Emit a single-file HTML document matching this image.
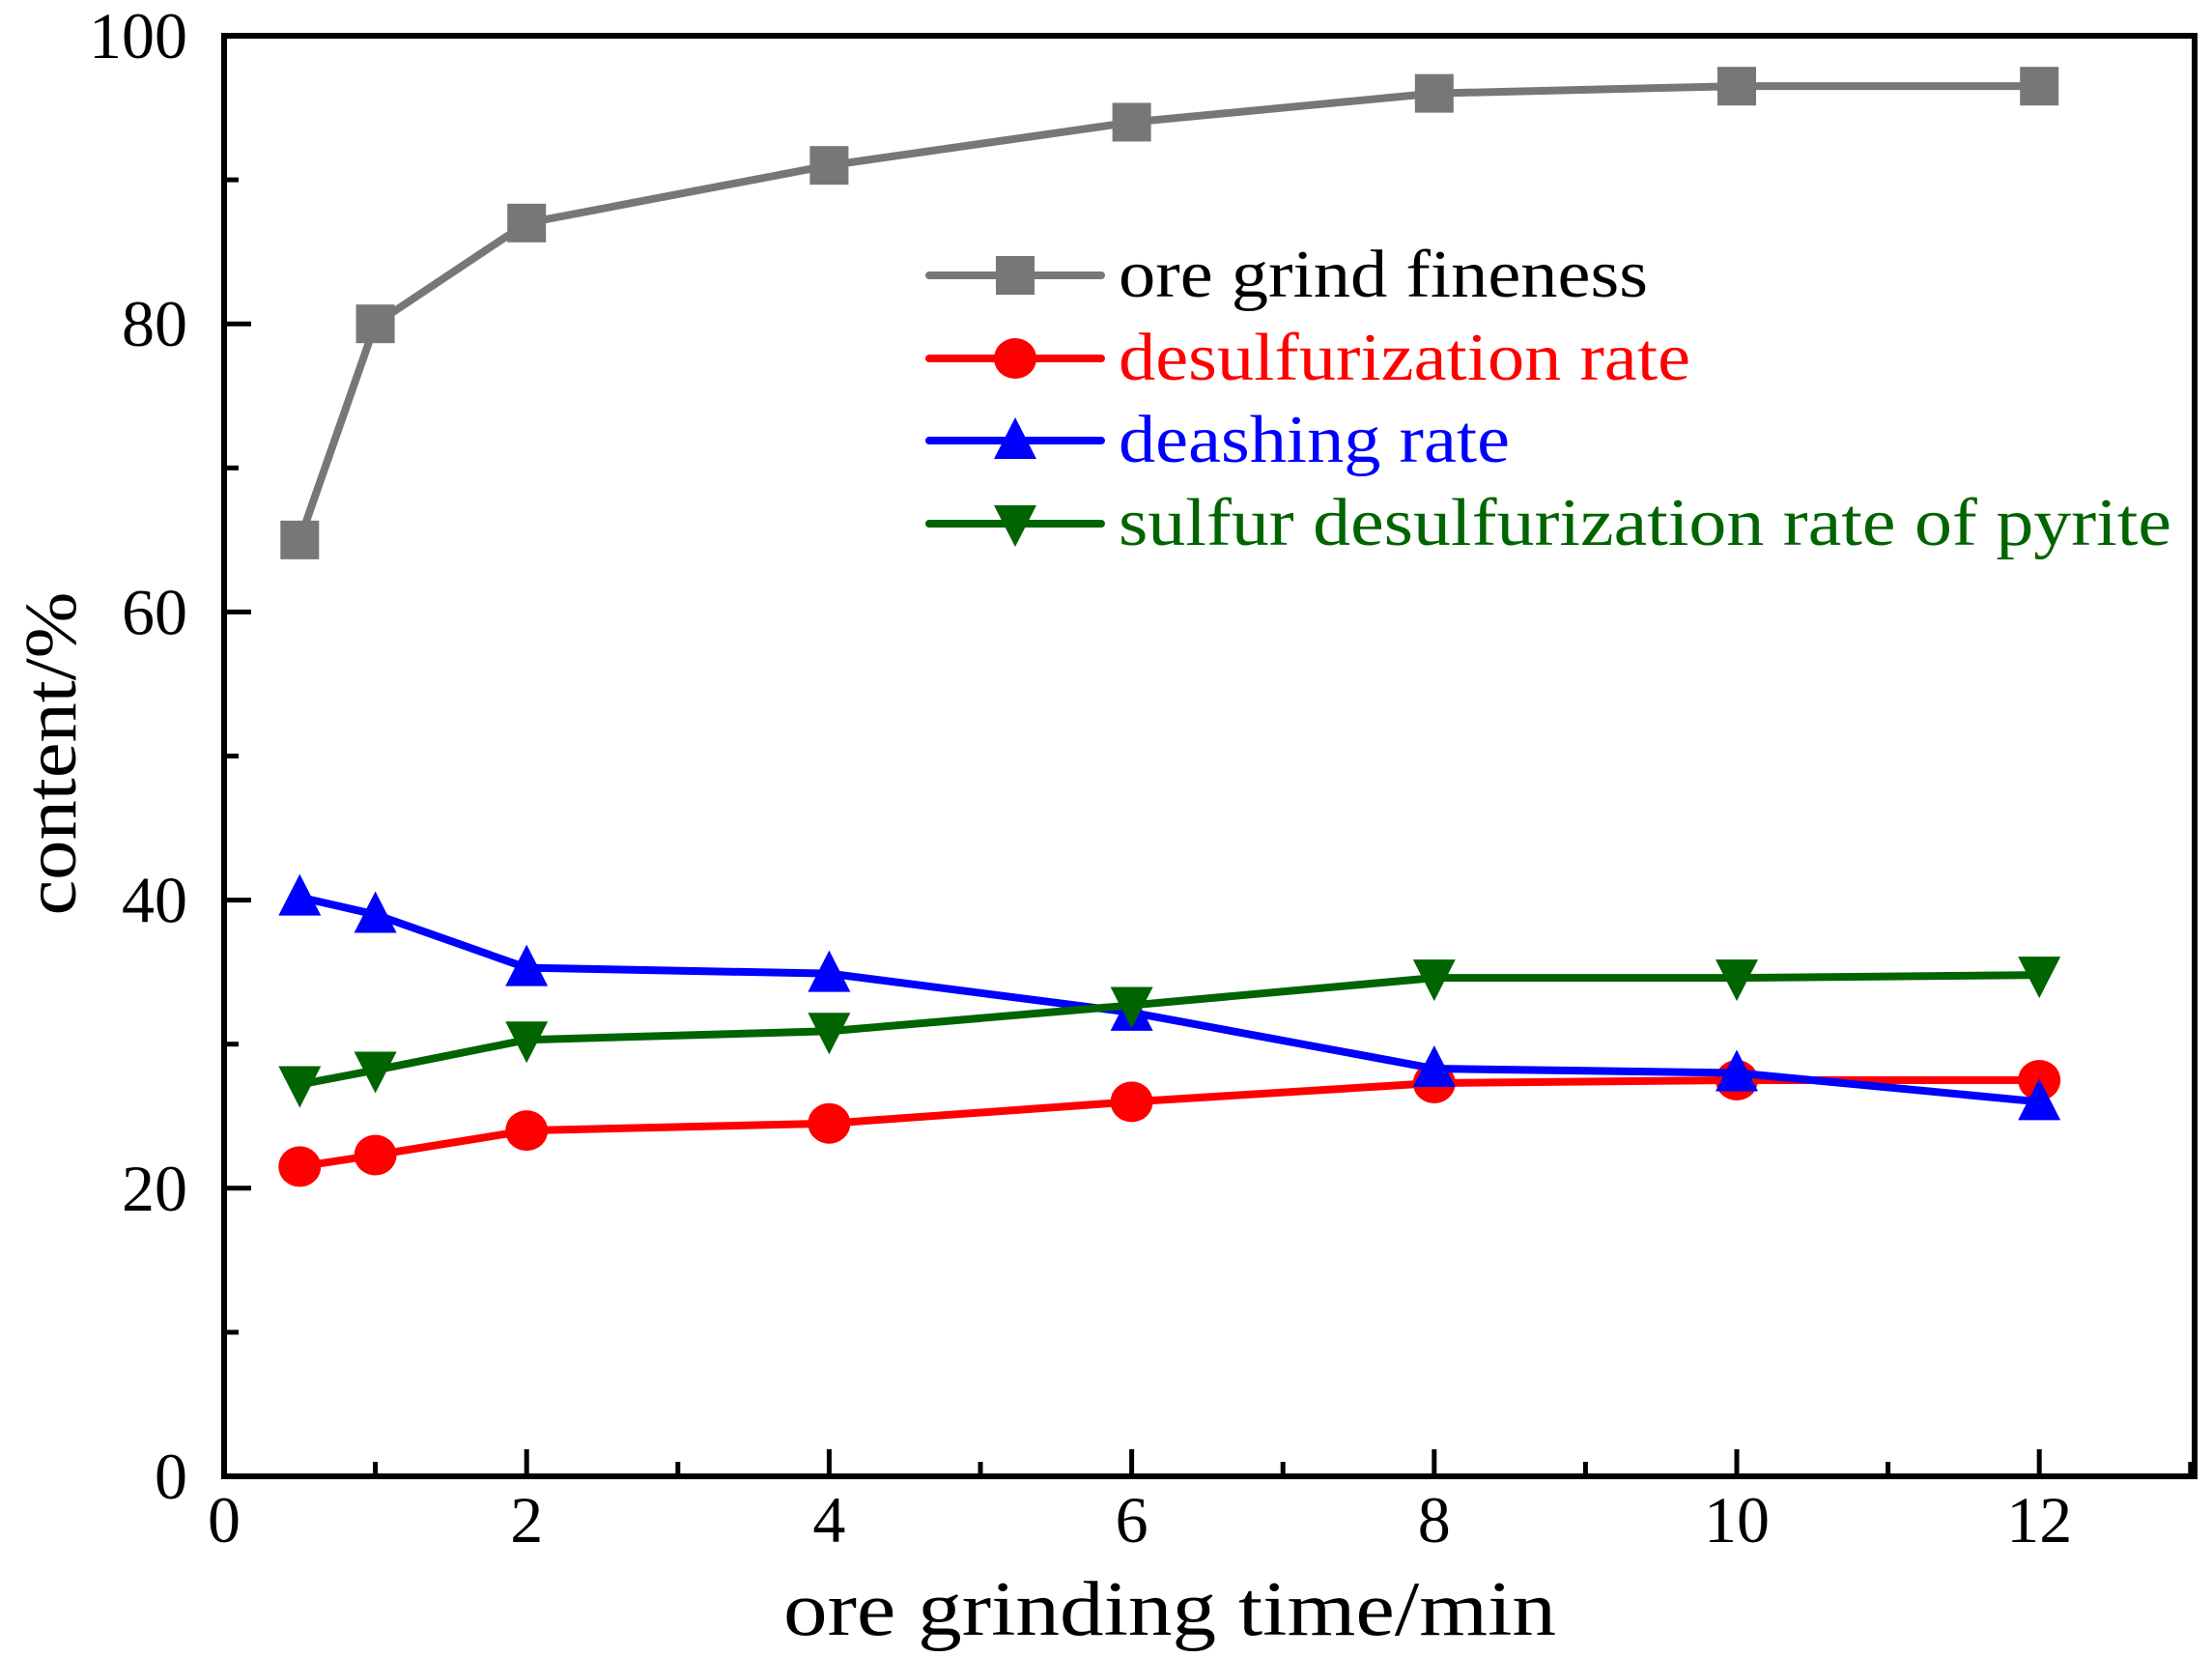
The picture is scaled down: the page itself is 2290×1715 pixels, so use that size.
<!DOCTYPE html>
<html><head><meta charset="utf-8"><style>
html,body{margin:0;padding:0;background:#fff;}
svg{display:block;font-family:"Liberation Serif",serif;}
</style></head><body>
<svg id="chart" width="2290" height="1715" viewBox="0 0 2290 1715" xmlns="http://www.w3.org/2000/svg">
<g id="axes"></g>
<g id="series"></g>
<g id="legend"></g>
<text x="0" y="0" font-size="76" text-anchor="middle" textLength="335" lengthAdjust="spacingAndGlyphs" transform="translate(78,780) rotate(-90)">content/%</text>
<text x="1211" y="1692" font-size="80" text-anchor="middle" textLength="800" lengthAdjust="spacingAndGlyphs">ore grinding time/min</text>
</svg>
<script>
const xValues = [0.5, 1, 2, 4, 6, 8, 10, 12];
const fineness = [65, 80, 87, 91, 94, 96, 96.5, 96.5];
const desulfurization = [21.5, 22.3, 24, 24.5, 26, 27.3, 27.5, 27.5];
const deashing = [40.2, 39, 35.3, 34.9, 32.2, 28.3, 28, 26];
const pyriteDesulf = [27.2, 28.2, 30.3, 30.9, 32.7, 34.6, 34.6, 34.8];
const xTicks = [0, 2, 4, 6, 8, 10, 12];
const yTicks = [0, 20, 40, 60, 80, 100];
const seriesNames = ["ore grind fineness", "desulfurization rate", "deashing rate", "sulfur desulfurization rate of pyrite"];

const NS = "http://www.w3.org/2000/svg";
const L = 232, R = 2272, T = 37, B = 1528;
const X = v => L + v * 156.6;
const Y = v => B - (v / 100) * (B - T);
function mk(tag, attrs, parent) {
  const e = document.createElementNS(NS, tag);
  for (const k in attrs) e.setAttribute(k, attrs[k]);
  parent.appendChild(e);
  return e;
}
const axes = document.getElementById('axes');
const frame = mk('rect', {x: L, y: T, width: R - L, height: B - T, fill: 'none', stroke: '#000', 'stroke-width': 6}, axes);


for (let v = 1; v <= 13; v++) {
  const major = v % 2 === 0;
  const t = mk('line', {x1: X(v), x2: X(v), y1: B, y2: B - (major ? 28 : 15), stroke: '#000', 'stroke-width': 5}, axes);
  
  
}
for (let v = 10; v < 100; v += 10) {
  const major = v % 20 === 0;
  const t = mk('line', {x1: L, x2: L + (major ? 28 : 15), y1: Y(v), y2: Y(v), stroke: '#000', 'stroke-width': 5}, axes);
  
  
}
xTicks.forEach(v => {
  const t = mk('text', {x: X(v), y: 1596, 'font-size': 68, 'text-anchor': 'middle'}, axes);
  t.textContent = v;
  
  
});
yTicks.forEach(v => {
  const t = mk('text', {x: 194, y: Y(v) + 23, 'font-size': 68, 'text-anchor': 'end'}, axes);
  t.textContent = v;
  
  
});

function marker(kind, cx, cy, color, parent) {
  let e;
  if (kind === 'square') e = mk('rect', {x: cx - 20, y: cy - 20, width: 40, height: 40, fill: color}, parent);
  else if (kind === 'circle') e = mk('ellipse', {cx: cx, cy: cy, rx: 22, ry: 21, fill: color}, parent);
  else if (kind === 'up') e = mk('polygon', {points: `${cx},${cy-24} ${cx-22},${cy+19} ${cx+22},${cy+19}`, fill: color}, parent);
  else e = mk('polygon', {points: `${cx},${cy+24} ${cx-22},${cy-19} ${cx+22},${cy-19}`, fill: color}, parent);
  return e;
}
const defs = [
  {vals: fineness, color: '#777777', kind: 'square', text: '#000', name: 'fineness'},
  {vals: desulfurization, color: '#ff0000', kind: 'circle', text: '#ff0000', name: 'desulfurization'},
  {vals: deashing, color: '#0000ff', kind: 'up', text: '#0000ff', name: 'deashing'},
  {vals: pyriteDesulf, color: '#006400', kind: 'down', text: '#006400', name: 'pyrite'}
];
const sg = document.getElementById('series');
defs.forEach(d => {
  const g = mk('g', {}, sg);
  
  
  const pl = mk('polyline', {points: xValues.map((x, i) => X(x) + ',' + Y(d.vals[i])).join(' '), fill: 'none', stroke: d.color, 'stroke-width': 8, 'stroke-linejoin': 'round'}, g);
  
  
  xValues.forEach((x, i) => {
    const m = marker(d.kind, X(x), Y(d.vals[i]), d.color, g);
    
    
  });
});
const lg = document.getElementById('legend');
const rowsY = [285, 371, 456, 542];
const widths = [548, 592, 405, 1090];
defs.forEach((d, i) => {
  const g = mk('g', {}, lg);
  
  
  mk('line', {x1: 962, x2: 1140, y1: rowsY[i], y2: rowsY[i], stroke: d.color, 'stroke-width': 8, 'stroke-linecap': 'round'}, g);
  marker(d.kind, 1051, rowsY[i], d.color, g);
  const t = mk('text', {x: 1158, y: rowsY[i] + 22, 'font-size': 70, fill: d.text, textLength: widths[i], lengthAdjust: 'spacingAndGlyphs'}, g);
  t.textContent = seriesNames[i];
  
  
});
</script>
</body></html>
